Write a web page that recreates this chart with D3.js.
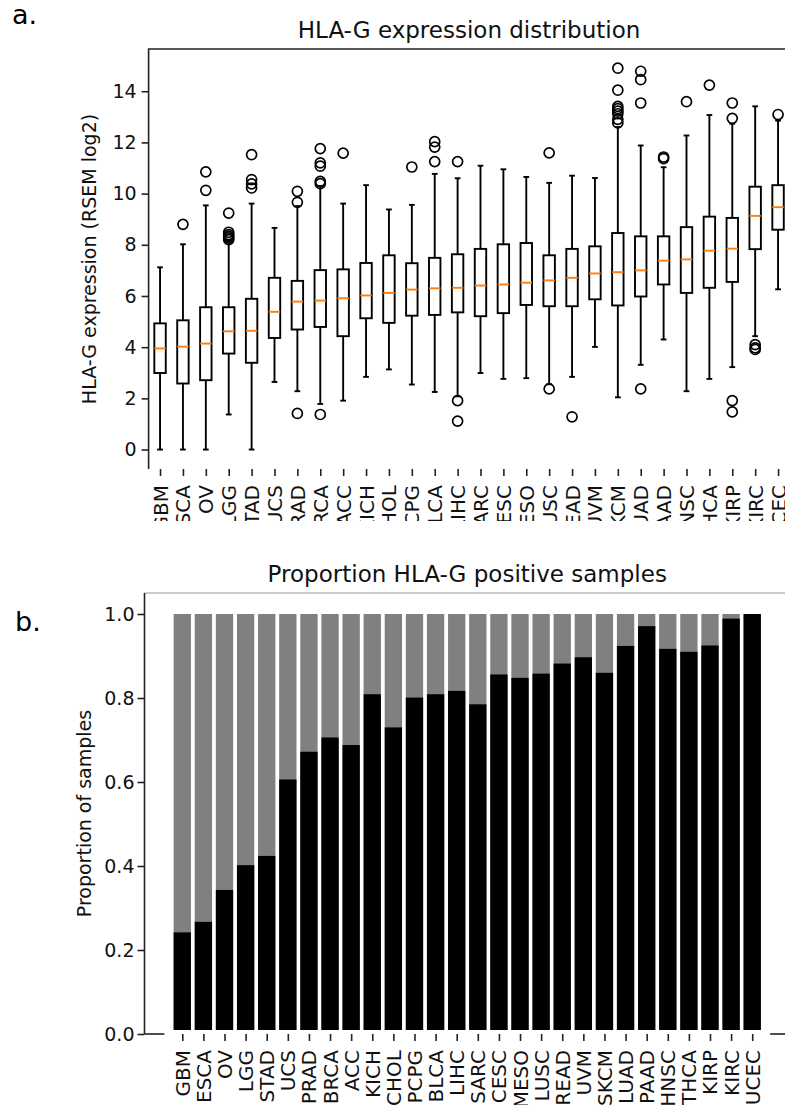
<!DOCTYPE html>
<html>
<head>
<meta charset="utf-8">
<script src="https://cdn.jsdelivr.net/npm/d3@7"></script>
<style>
  body { margin: 0; background: #fff; }
  svg { display: block; }
  text { font-family: 'DejaVu Sans', sans-serif; }
</style>
</head>
<body>
<div id="chart"></div>
<script>
// cancer types, same order in both panels
let cancerTypes = ['GBM', 'ESCA', 'OV', 'LGG', 'STAD', 'UCS', 'PRAD', 'BRCA', 'ACC', 'KICH',
  'CHOL', 'PCPG', 'BLCA', 'LIHC', 'SARC', 'CESC', 'MESO', 'LUSC', 'READ', 'UVM',
  'SKCM', 'LUAD', 'PAAD', 'HNSC', 'THCA', 'KIRP', 'KIRC', 'UCEC']

// box plot stats (RSEM log2)
let whiskerLow = [0, 0, 0, 1.37, 0, 2.64, 2.28, 1.78, 1.91, 2.84,
  3.13, 2.54, 2.25, 2.08, 2.99, 2.76, 2.79, 2.55, 2.84, 4.01,
  2.04, 3.31, 4.30, 2.28, 2.76, 3.22, 4.43, 6.26]
let quartile1 = [2.99, 2.58, 2.71, 3.75, 3.39, 4.36, 4.69, 4.79, 4.43, 5.13,
  4.95, 5.23, 5.26, 5.36, 5.21, 5.33, 5.65, 5.60, 5.60, 5.87,
  5.63, 5.98, 6.45, 6.12, 6.32, 6.55, 7.83, 8.59]
let medians = [3.95, 4.02, 4.14, 4.62, 4.64, 5.38, 5.78, 5.82, 5.91, 6.02,
  6.12, 6.25, 6.30, 6.32, 6.41, 6.45, 6.52, 6.61, 6.71, 6.88,
  6.93, 7.00, 7.38, 7.43, 7.77, 7.85, 9.13, 9.47]
let quartile3 = [4.93, 5.05, 5.56, 5.56, 5.89, 6.71, 6.59, 7.01, 7.04, 7.29,
  7.59, 7.28, 7.49, 7.63, 7.84, 8.02, 8.07, 7.59, 7.84, 7.94,
  8.46, 8.33, 8.33, 8.69, 9.10, 9.05, 10.27, 10.33]
let whiskerHigh = [7.12, 8.02, 9.54, 8.18, 9.61, 8.66, 9.51, 10.29, 9.61, 10.33,
  9.38, 9.56, 10.77, 10.6, 11.09, 10.95, 10.65, 10.42, 10.7, 10.61,
  12.6, 11.88, 11.03, 12.27, 13.07, 12.73, 13.41, 12.85]
let outliers = [
  [], [8.80], [10.13, 10.85], [8.20, 8.27, 8.33, 8.40, 8.49, 9.24],
  [10.22, 10.38, 10.55, 11.52], [], [1.41, 9.66, 10.09],
  [1.37, 10.39, 10.48, 11.07, 11.2, 11.76], [11.58], [], [], [11.04],
  [11.25, 11.82, 12.03], [1.11, 1.91, 11.25], [], [], [], [2.37, 11.59],
  [1.28], [], [12.76, 12.9, 13.12, 13.22, 13.32, 13.41, 14.04, 14.9],
  [2.37, 13.54, 14.45, 14.78], [11.37, 11.43], [13.59], [14.24],
  [1.47, 1.91, 12.94, 13.54], [3.91, 3.97, 4.10], [13.09]
]
let boxTicks = [0, 2, 4, 6, 8, 10, 12, 14]

// proportion of HLA-G positive samples
let positiveShare = [0.242, 0.267, 0.343, 0.402, 0.424, 0.606, 0.672, 0.706, 0.688, 0.809,
  0.730, 0.801, 0.809, 0.817, 0.785, 0.856, 0.848, 0.858, 0.882, 0.897,
  0.860, 0.924, 0.971, 0.917, 0.910, 0.925, 0.989, 1.0]
let shareTicks = [0, 0.2, 0.4, 0.6, 0.8, 1.0]

let width = 785
let height = 1105

let svg = d3
  .select('#chart')
  .append('svg')
  .attr('width', width)
  .attr('height', height)

svg.append('rect').attr('width', width).attr('height', height).attr('fill', '#fff')

// ---------- panel a: box plots ----------
let topBox = { left: 148.6, right: 789.5, top: 49, bottom: 469 }

svg
  .append('clipPath')
  .attr('id', 'clip-a')
  .append('rect')
  .attr('x', 0)
  .attr('y', 0)
  .attr('width', width)
  .attr('height', 521)

let panelA = svg.append('g').attr('clip-path', 'url(#clip-a)')

let xBox = d3.scaleLinear().domain([0.5, 28.5]).range([topBox.left, topBox.right])
let yBox = d3.scaleLinear().domain([-0.76, 15.65]).range([topBox.bottom, topBox.top])

let boxes = cancerTypes.map((d, i) => {
  return {
    name: d,
    pos: i + 1,
    low: whiskerLow[i],
    q1: quartile1[i],
    med: medians[i],
    q3: quartile3[i],
    high: whiskerHigh[i],
    fliers: outliers[i]
  }
})

let boxHalf = (xBox(1.25) - xBox(0.75)) / 2
let capHalf = boxHalf / 2

let boxG = panelA
  .selectAll('.box')
  .data(boxes)
  .enter()
  .append('g')
  .attr('class', 'box')

boxG
  .append('line')
  .attr('x1', d => xBox(d.pos))
  .attr('x2', d => xBox(d.pos))
  .attr('y1', d => yBox(d.low))
  .attr('y2', d => yBox(d.q1))
  .attr('stroke', '#000')
  .attr('stroke-width', 1.9)

boxG
  .append('line')
  .attr('x1', d => xBox(d.pos))
  .attr('x2', d => xBox(d.pos))
  .attr('y1', d => yBox(d.q3))
  .attr('y2', d => yBox(d.high))
  .attr('stroke', '#000')
  .attr('stroke-width', 1.9)

boxG
  .append('line')
  .attr('x1', d => xBox(d.pos) - capHalf)
  .attr('x2', d => xBox(d.pos) + capHalf)
  .attr('y1', d => yBox(d.low))
  .attr('y2', d => yBox(d.low))
  .attr('stroke', '#000')
  .attr('stroke-width', 1.9)

boxG
  .append('line')
  .attr('x1', d => xBox(d.pos) - capHalf)
  .attr('x2', d => xBox(d.pos) + capHalf)
  .attr('y1', d => yBox(d.high))
  .attr('y2', d => yBox(d.high))
  .attr('stroke', '#000')
  .attr('stroke-width', 1.9)

boxG
  .append('rect')
  .attr('x', d => xBox(d.pos) - boxHalf)
  .attr('width', boxHalf * 2)
  .attr('y', d => yBox(d.q3))
  .attr('height', d => yBox(d.q1) - yBox(d.q3))
  .attr('fill', 'none')
  .attr('stroke', '#000')
  .attr('stroke-width', 1.9)

boxG
  .append('line')
  .attr('x1', d => xBox(d.pos) - boxHalf)
  .attr('x2', d => xBox(d.pos) + boxHalf)
  .attr('y1', d => yBox(d.med))
  .attr('y2', d => yBox(d.med))
  .attr('stroke', '#ff7f0e')
  .attr('stroke-width', 1.9)

boxG
  .selectAll('circle')
  .data(d => d.fliers.map(v => ({ pos: d.pos, v: v })))
  .enter()
  .append('circle')
  .attr('cx', d => xBox(d.pos))
  .attr('cy', d => yBox(d.v))
  .attr('r', 5)
  .attr('fill', 'none')
  .attr('stroke', '#000')
  .attr('stroke-width', 1.7)

// spines
panelA
  .append('path')
  .attr('d', 'M' + topBox.left + ',' + topBox.bottom + 'V' + topBox.top + 'H' + topBox.right)
  .attr('fill', 'none')
  .attr('stroke', '#222')
  .attr('stroke-width', 1.6)

let yAxisA = d3
  .axisLeft(yBox)
  .tickValues(boxTicks)
  .tickFormat(d3.format('d'))
  .tickSize(7)
  .tickPadding(5)

panelA
  .append('g')
  .attr('class', 'axis y-axis')
  .attr('transform', 'translate(' + topBox.left + ',0)')
  .call(yAxisA)

let xAxisA = d3
  .axisBottom(xBox)
  .tickValues(boxes.map(d => d.pos))
  .tickFormat((d, i) => cancerTypes[i])
  .tickSize(7)

panelA
  .append('g')
  .attr('class', 'axis x-axis')
  .attr('transform', 'translate(0,' + topBox.bottom + ')')
  .call(xAxisA)

panelA
  .append('text')
  .attr('x', (topBox.left + topBox.right) / 2)
  .attr('y', 38)
  .attr('text-anchor', 'middle')
  .attr('font-size', 23)
  .attr('fill', '#111')
  .text('HLA-G expression distribution')

panelA
  .append('text')
  .attr('transform', 'translate(96,' + (topBox.top + topBox.bottom) / 2 + ') rotate(-90)')
  .attr('text-anchor', 'middle')
  .attr('font-size', 19)
  .attr('fill', '#111')
  .text('HLA-G expression (RSEM log2)')

// ---------- panel b: stacked proportion bars ----------
let botBox = { left: 144.5, right: 790, top: 593, bottom: 1034 }

let xBar = d3.scaleLinear().domain([-1.79, 28.79]).range([botBox.left, botBox.right])
let yBar = d3.scaleLinear().domain([0, 1.05]).range([botBox.bottom, botBox.top])

let barHalf = (xBar(0.82) - xBar(0)) / 2
let baseGap = 4

let bars = cancerTypes.map((d, i) => ({ name: d, pos: i, share: positiveShare[i] }))

let panelB = svg.append('g')

// bottom spine, hidden under the bar block like in the figure
panelB
  .append('line')
  .attr('x1', botBox.left)
  .attr('x2', xBar(-0.85))
  .attr('y1', botBox.bottom)
  .attr('y2', botBox.bottom)
  .attr('stroke', '#222')
  .attr('stroke-width', 1.6)

panelB
  .append('line')
  .attr('x1', xBar(27.85))
  .attr('x2', width)
  .attr('y1', botBox.bottom)
  .attr('y2', botBox.bottom)
  .attr('stroke', '#222')
  .attr('stroke-width', 1.6)

panelB
  .selectAll('.bar-total')
  .data(bars)
  .enter()
  .append('rect')
  .attr('class', 'bar-total')
  .attr('x', d => xBar(d.pos) - barHalf)
  .attr('width', barHalf * 2)
  .attr('y', yBar(1))
  .attr('height', yBar(0) - yBar(1) - baseGap)
  .attr('fill', '#808080')

panelB
  .selectAll('.bar-pos')
  .data(bars)
  .enter()
  .append('rect')
  .attr('class', 'bar-pos')
  .attr('x', d => xBar(d.pos) - barHalf)
  .attr('width', barHalf * 2)
  .attr('y', d => yBar(d.share))
  .attr('height', d => yBar(0) - yBar(d.share) - baseGap)
  .attr('fill', '#000')

panelB
  .append('line')
  .attr('x1', botBox.left)
  .attr('x2', width)
  .attr('y1', botBox.top)
  .attr('y2', botBox.top)
  .attr('stroke', '#999')
  .attr('stroke-width', 1.2)

panelB
  .append('line')
  .attr('x1', botBox.left)
  .attr('x2', botBox.left)
  .attr('y1', botBox.top)
  .attr('y2', botBox.bottom)
  .attr('stroke', '#222')
  .attr('stroke-width', 1.6)

let yAxisB = d3
  .axisLeft(yBar)
  .tickValues(shareTicks)
  .tickFormat(d3.format('.1f'))
  .tickSize(7)
  .tickPadding(3)

panelB
  .append('g')
  .attr('class', 'axis y-axis')
  .attr('transform', 'translate(' + botBox.left + ',0)')
  .call(yAxisB)

let xAxisB = d3
  .axisBottom(xBar)
  .tickValues(bars.map(d => d.pos))
  .tickFormat((d, i) => cancerTypes[i])
  .tickSize(7)

panelB
  .append('g')
  .attr('class', 'axis x-axis')
  .attr('transform', 'translate(0,' + botBox.bottom + ')')
  .call(xAxisB)

panelB
  .append('text')
  .attr('x', (botBox.left + botBox.right) / 2)
  .attr('y', 582)
  .attr('text-anchor', 'middle')
  .attr('font-size', 23)
  .attr('fill', '#111')
  .text('Proportion HLA-G positive samples')

panelB
  .append('text')
  .attr('transform', 'translate(91,' + (botBox.top + botBox.bottom) / 2 + ') rotate(-90)')
  .attr('text-anchor', 'middle')
  .attr('font-size', 19)
  .attr('fill', '#111')
  .text('Proportion of samples')

// axis styling, matplotlib look
svg.selectAll('.axis .domain').remove()
svg.selectAll('.axis .tick line').attr('stroke', '#222').attr('stroke-width', 1.6)
svg.selectAll('.axis text').attr('font-family', "'DejaVu Sans', sans-serif").attr('fill', '#111')
svg.selectAll('.y-axis text').attr('font-size', 19)
svg
  .selectAll('.x-axis text')
  .attr('font-size', 20)
  .attr('transform', 'rotate(-90)')
  .attr('text-anchor', 'end')
  .attr('x', -16)
  .attr('y', 0)
  .attr('dy', '0.35em')

// panel letters
svg
  .append('text')
  .attr('x', 12)
  .attr('y', 24)
  .attr('font-family', "'Open Sans', sans-serif")
  .attr('font-size', 27)
  .attr('fill', '#000')
  .text('a.')

svg
  .append('text')
  .attr('x', 15)
  .attr('y', 631)
  .attr('font-family', "'Open Sans', sans-serif")
  .attr('font-size', 27)
  .attr('fill', '#000')
  .text('b.')
</script>
</body>
</html>
